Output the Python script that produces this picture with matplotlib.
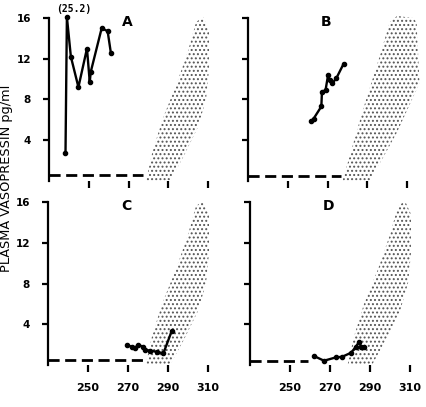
import matplotlib
matplotlib.use("Agg")
import matplotlib.pyplot as plt
from matplotlib import font_manager

# ---------------- data ----------------
xticks = [250, 270, 290, 310]
yticks = [4, 8, 12, 16]
xlim = (230, 312)
ylim = (0, 16.5)

a_x = [238.3, 239.0, 241.0, 244.8, 249.1, 250.5, 251.0, 256.5, 259.5, 261.1]
a_y = [2.7, 16.1, 12.2, 9.2, 13.0, 9.7, 10.7, 15.0, 14.7, 12.6]
a_note = "(25.2)"

b_x = [261.9, 263.0, 266.9, 267.2, 269.0, 270.3, 271.0, 272.5, 274.5, 278.1]
b_y = [5.9, 6.1, 7.3, 8.75, 8.9, 10.4, 9.9, 9.6, 10.1, 11.5]

c_x = [269.3, 271.8, 273.5, 275.2, 277.7, 278.5, 281.0, 284.3, 287.7, 291.8]
c_y = [1.95, 1.8, 1.7, 1.95, 1.8, 1.5, 1.4, 1.3, 1.15, 3.3]

d_x = [262.0, 267.0, 273.0, 276.0, 280.5, 283.0, 284.6, 285.5, 287.0]
d_y = [0.88, 0.42, 0.75, 0.8, 1.2, 1.8, 2.3, 1.8, 1.8]

# baseline (dashed) segments: start, end, level
base_a = (230, 277.5, 0.55)
base_b = (230, 277.0, 0.5)
base_c = (230, 277.5, 0.5)
base_d = (230, 259.0, 0.38)

# normal-range band (stippled)
band_x = [278.8, 282.0, 287.0, 294.0, 300.0, 304.0, 307.5, 310.5, 310.5, 309.0, 305.0, 298.0, 291.0]
band_y = [0.0, 2.8, 6.0, 9.4, 12.8, 15.6, 16.1, 14.8, 11.0, 8.0, 5.3, 2.5, 0.0]
band_b_x = [277.6, 282.0, 287.7, 296.2, 301.3, 305.0, 313.0, 314.8, 316.3, 304.8, 298.0, 291.2]
band_b_y = [0.0, 3.0, 6.9, 12.2, 15.6, 16.2, 16.0, 15.6, 9.6, 4.7, 2.3, 0.0]

letters = ["A", "B", "C", "D"]
ylabel = "PLASMA VASOPRESSIN pg/ml"

# ---------------- layout ----------------
W, H = 427, 407
fig = plt.figure(figsize=(W / 100, H / 100), dpi=100)

def ax_rect(left_px, y0_px, top16_px, width_px):
    ppu = (y0_px - top16_px) / 16.0
    top_px = y0_px - ylim[1] * ppu
    return [left_px / W, 1 - y0_px / H, width_px / W, (y0_px - top_px) / H]

rects = [ax_rect(49, 180.7, 18, 163), ax_rect(248, 180.7, 18, 163),
         ax_rect(48, 365, 202, 164), ax_rect(250, 365, 202, 164)]

names = [f.name for f in font_manager.fontManager.ttflist]
tickfont = "Liberation Sans Narrow" if "Liberation Sans Narrow" in names else "DejaVu Sans"

panels = [(a_x, a_y, base_a, band_x, band_y),
          (b_x, b_y, base_b, band_b_x, band_b_y),
          (c_x, c_y, base_c, band_x, band_y),
          (d_x, d_y, base_d, band_x, band_y)]

plt.rcParams['hatch.linewidth'] = 0.9

for i, (rect, (px, py, base, bx, by)) in enumerate(zip(rects, panels)):
    ax = fig.add_axes(rect)
    ax.set_xlim(*xlim)
    ax.set_ylim(*ylim)
    ax.fill(bx, by, facecolor='none', edgecolor='#555555', hatch='....',
            linewidth=0, clip_on=False)
    ax.plot([base[0], base[1]], [base[2], base[2]], color='black', lw=2.0,
            dashes=(4, 2), clip_on=False, solid_capstyle='butt')
    ax.plot(px, py, color='black', lw=1.7, marker='o', ms=3.0, clip_on=False)
    for s in ['top', 'right', 'bottom']:
        ax.spines[s].set_visible(False)
    ax.spines['left'].set_bounds(0, 16)
    ax.spines['left'].set_linewidth(1.6)
    ax.set_xticks(xticks)
    ax.set_yticks(yticks)
    ax.tick_params(axis='x', direction='out', length=5, width=1.6, pad=8)
    ax.tick_params(axis='y', direction='out', length=4, width=1.6, pad=9)
    if i in (0, 2):
        ax.set_yticklabels([str(v) for v in yticks], fontsize=7.5, fontweight='bold', family=tickfont)
    else:
        ax.set_yticklabels([])
    if i in (2, 3):
        ax.set_xticklabels([str(v) for v in xticks], fontsize=8, fontweight='bold', family=tickfont)
    else:
        ax.set_xticklabels([])
    ax.text(0.48, 0.985, letters[i], transform=ax.transAxes, ha='center', va='top',
            fontsize=10, fontweight='bold')
    if i == 0:
        ax.text(a_x[1] + 3.5, 16.4, a_note, ha='center', va='bottom', fontsize=7,
                fontweight='bold', family='DejaVu Sans Mono')

fig.text(7 / W, 1 - 178 / H, ylabel, rotation=90, ha='center', va='center', fontsize=9.3)

fig.savefig("out.png", dpi=100)
